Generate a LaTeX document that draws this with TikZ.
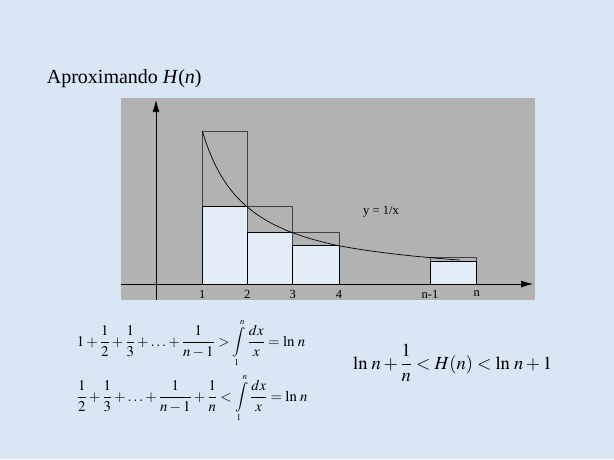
\documentclass[tikz,border=0pt]{standalone}
\usepackage{mathptmx}
\usepackage{fontspec}
\setmainfont{Liberation Serif}
\usetikzlibrary{arrows.meta}
\usetikzlibrary{calc}
\definecolor{bgblue}{HTML}{D9E6F4}
\definecolor{cellblue}{HTML}{E2EDF8}
\definecolor{panelgray}{HTML}{B2B2B2}
\tikzset{
	bar/.style={draw=black!75, line width=0.7pt},
	lowbar/.style={draw=black, line width=0.7pt, fill=cellblue},
	tick/.style={font=\fontsize{12.5}{14}\selectfont, inner sep=0pt},
	formula/.style={font=\fontsize{14.8}{17}\selectfont, inner sep=0pt, anchor=base west},
}
\newcommand{\intonen}{\int\limits_{\scriptscriptstyle 1}^{\scriptscriptstyle n}}
\begin{document}
\begin{tikzpicture}[x=1pt, y=-1pt]
	\fill[bgblue] (0,0) rectangle (614,459);
	\useasboundingbox (0,0) rectangle (614,459);
	\node[anchor=base west, inner sep=0pt, font=\fontsize{20}{24}\selectfont] (title) at (46.7,83) {Aproximando \textit{H}(\textit{n})};
	\fill[panelgray] (121,98) rectangle (535,300);
	\foreach \xl/\xr/\hi/\lo in {202.3/247.3/131/206.7, 247.3/292.7/206.7/232.3, 292.7/339/232.3/245.3, 430/476.7/257.7/261}{
		\draw[bar] (\xl,\hi) rectangle (\xr,284);
		\draw[lowbar] (\xl,\lo) rectangle (\xr,284);
	}
	\draw[line width=0.7pt] plot[domain=1:4, samples=40] ({202.3+(\x-1)*45.57}, {284-153/\x});
	\draw[line width=0.7pt] plot[domain=4:6.4, samples=20] ({339+(\x-4)*50.5}, {284-153/\x});
	\coordinate (xstart) at (121,284);
	\coordinate (xend) at (533,284);
	\coordinate (ybot) at (156,300);
	\coordinate (ytop) at (156,100);
	\path[-{Latex[length=12pt,width=7pt]}, line width=0.7pt]
	(xstart) edge (xend)
	(ybot) edge (ytop)
	;
	\foreach \lab/\px in {1/202.3, 2/247.3, 3/292.7, 4/339, n-1/430, n/476.7}{
		\node[tick] (t-\lab) at (\px,294) {\lab};
	}
	\node[tick] (curve) at (381,212) {y = 1/x};
	\node[formula] (upper) at (76.7,346) {$\displaystyle 1+\frac{1}{2}+\frac{1}{3}+\ldots+\frac{1}{n-1}>\intonen\frac{dx}{x}=\ln\,n$};
	\node[formula] (lower) at (76.7,401) {$\displaystyle \frac{1}{2}+\frac{1}{3}+\ldots+\frac{1}{n-1}+\frac{1}{n}<\intonen\frac{dx}{x}=\ln\,n$};
	\node[formula, font=\fontsize{18.5}{22}\selectfont] (bound) at (353,369) {$\displaystyle \ln\,n+\frac{1}{n}<H\!\left(n\right)<\ln\,n+1$};
\end{tikzpicture}
\end{document}
